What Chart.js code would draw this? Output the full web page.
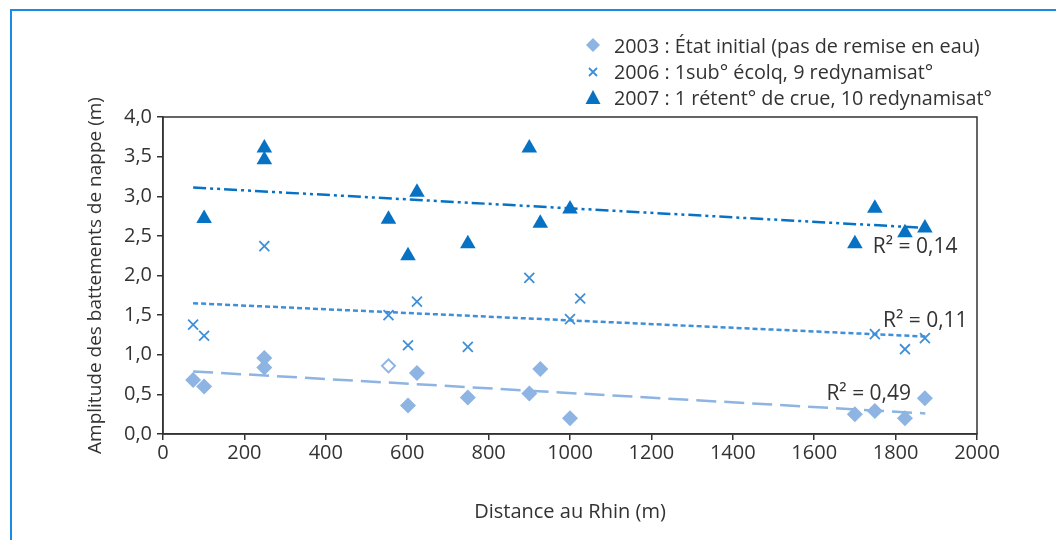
<!DOCTYPE html>
<html lang="fr">
<head>
    <meta charset="UTF-8">
    <title>Amplitude des battements de nappe</title>
    <script src="https://cdn.jsdelivr.net/npm/chart.js"></script>
    <style>
        body {
            margin: 0;
            background: #fff;
            font-family: 'Open Sans', sans-serif;
        }
        .wrap {
            position: relative;
            width: 1056px;
            height: 540px;
        }
        .frame {
            position: absolute;
            left: 10px;
            top: 9px;
            right: 0;
            bottom: 0;
            border-top: 2px solid #1b8ae0;
            border-left: 2px solid #1b8ae0;
        }
        .legend {
            position: absolute;
            left: 585px;
            top: 33px;
            font-size: 19.8px;
            color: #333;
            line-height: 26px;
        }
        .legend div {
            white-space: nowrap;
        }
        .legend span.mk {
            display: inline-block;
            width: 29px;
        }
        canvas { position: absolute; left: 0; top: 0; }
    </style>
</head>
<body>
<div class="wrap">
    <div class="frame"></div>
    <canvas id="chart" width="1056" height="540"></canvas>
    <div class="legend">
        <div><span class="mk"><svg width="16" height="16" viewBox="0 0 16 16"><path d="M8 1 L15 8 L8 15 L1 8 Z" fill="#8db4e2"/></svg></span>2003 : État initial (pas de remise en eau)</div>
        <div><span class="mk"><svg width="16" height="16" viewBox="0 0 16 16"><path d="M4 5 L12 13 M12 5 L4 13" stroke="#3e8fd8" stroke-width="1.8"/></svg></span>2006 : 1sub° écolq, 9 redynamisat°</div>
        <div><span class="mk"><svg width="16" height="16" viewBox="0 0 16 16"><path d="M8 1 L15.5 15 L0.5 15 Z" fill="#0772c4"/></svg></span>2007 : 1 rétent° de crue, 10 redynamisat°</div>
    </div>
</div>
<script>
    // données
    const x2003 = [74, 101, 249, 249, 554, 602, 624, 749, 900, 927, 1000, 1700, 1749, 1823, 1872];
    const y2003 = [0.68, 0.60, 0.96, 0.84, 0.86, 0.36, 0.77, 0.46, 0.51, 0.82, 0.20, 0.25, 0.29, 0.20, 0.45];
    const hollow2003 = [4]; // point creux

    const x2006 = [74, 101, 249, 554, 602, 624, 749, 900, 1000, 1025, 1749, 1823, 1872];
    const y2006 = [1.38, 1.24, 2.37, 1.50, 1.12, 1.67, 1.10, 1.97, 1.45, 1.71, 1.26, 1.07, 1.21];

    const x2007 = [101, 249, 249, 554, 602, 624, 749, 900, 927, 1000, 1700, 1749, 1823, 1872];
    const y2007 = [2.72, 3.61, 3.46, 2.71, 2.25, 3.05, 2.40, 3.61, 2.66, 2.84, 2.40, 2.85, 2.54, 2.60];

    // droites de tendance (début, fin)
    const trendX = [74, 1873];
    const trend2003 = [0.79, 0.26];
    const trend2006 = [1.65, 1.23];
    const trend2007 = [3.11, 2.60];

    // étiquettes R²
    const r2Labels = ['R² = 0,14', 'R² = 0,11', 'R² = 0,49'];
    const r2X = [1744, 1769, 1630];
    const r2Y = [2.36, 1.43, 0.50];

    const c2003 = '#8db4e2';
    const c2006 = '#3e8fd8';
    const c2007 = '#0772c4';

    function pts(xs, ys) {
        return xs.map((x, i) => ({ x: x, y: ys[i] }));
    }

    const boxPlugin = {
        id: 'box',
        afterDraw(chart) {
            const { ctx, chartArea: a, scales } = chart;
            ctx.save();
            ctx.strokeStyle = '#333';
            ctx.lineWidth = 1.5;
            ctx.strokeRect(a.left, a.top, a.right - a.left, a.bottom - a.top);
            ctx.fillStyle = '#333';
            ctx.font = '21px "Open Sans"';
            ctx.textAlign = 'left';
            ctx.textBaseline = 'middle';
            r2Labels.forEach((t, i) => {
                ctx.fillText(t, scales.x.getPixelForValue(r2X[i]), scales.y.getPixelForValue(r2Y[i]));
            });
            ctx.restore();
        }
    };

    const tickFont = { family: 'Open Sans', size: 20 };

    new Chart(document.getElementById('chart'), {
        type: 'scatter',
        data: {
            datasets: [
                {
                    label: '2003',
                    data: pts(x2003, y2003),
                    pointStyle: 'rectRot',
                    pointBackgroundColor: ctx => hollow2003.includes(ctx.dataIndex) ? '#fff' : c2003,
                    pointBorderColor: c2003,
                    pointBorderWidth: ctx => hollow2003.includes(ctx.dataIndex) ? 2 : 0,
                    pointRadius: ctx => hollow2003.includes(ctx.dataIndex) ? 6.5 : 8
                },
                {
                    label: '2006',
                    data: pts(x2006, y2006),
                    pointStyle: 'crossRot',
                    pointRadius: 7,
                    pointBorderColor: c2006,
                    pointBorderWidth: 1.8
                },
                {
                    label: '2007',
                    data: pts(x2007, y2007),
                    pointStyle: 'triangle',
                    pointRadius: 9,
                    pointBackgroundColor: c2007,
                    pointBorderWidth: 0
                },
                {
                    type: 'line',
                    data: pts(trendX, trend2003),
                    borderColor: c2003,
                    borderWidth: 2.5,
                    borderDash: [20, 8],
                    pointRadius: 0
                },
                {
                    type: 'line',
                    data: pts(trendX, trend2006),
                    borderColor: c2006,
                    borderWidth: 2.5,
                    borderDash: [5, 3],
                    pointRadius: 0
                },
                {
                    type: 'line',
                    data: pts(trendX, trend2007),
                    borderColor: c2007,
                    borderWidth: 2.5,
                    borderDash: [13, 4, 3, 4, 3, 4],
                    pointRadius: 0
                }
            ]
        },
        options: {
            responsive: false,
            animation: false,
            layout: { padding: { left: 0, top: 117, right: 79, bottom: 0 } },
            plugins: {
                legend: { display: false },
                tooltip: { enabled: false }
            },
            scales: {
                x: {
                    type: 'linear',
                    min: 0,
                    max: 2000,
                    ticks: {
                        stepSize: 200,
                        color: '#333',
                        font: tickFont,
                        padding: 1,
                        callback: v => String(v)
                    },
                    grid: { drawOnChartArea: false, tickLength: 6, color: '#333', lineWidth: 1.5 },
                    border: { color: '#333', width: 1.5 },
                    title: {
                        display: true,
                        text: 'Distance au Rhin (m)',
                        color: '#333',
                        font: { family: 'Open Sans', size: 20 },
                        padding: { top: 0, bottom: 16 }
                    },
                    afterFit(axis) { axis.height = 106; }
                },
                y: {
                    min: 0,
                    max: 4,
                    ticks: {
                        stepSize: 0.5,
                        color: '#333',
                        font: tickFont,
                        padding: 5,
                        callback: v => v.toFixed(1).replace('.', ',')
                    },
                    grid: { drawOnChartArea: false, tickLength: 6, color: '#333', lineWidth: 1.5 },
                    border: { color: '#333', width: 1.5 },
                    title: {
                        display: true,
                        text: 'Amplitude des battements de nappe (m)',
                        color: '#333',
                        font: { family: 'Open Sans', size: 19 },
                        padding: { top: 84, bottom: 0 }
                    },
                    afterFit(axis) { axis.width = 163; }
                }
            }
        },
        plugins: [boxPlugin]
    });
</script>
</body>
</html>
